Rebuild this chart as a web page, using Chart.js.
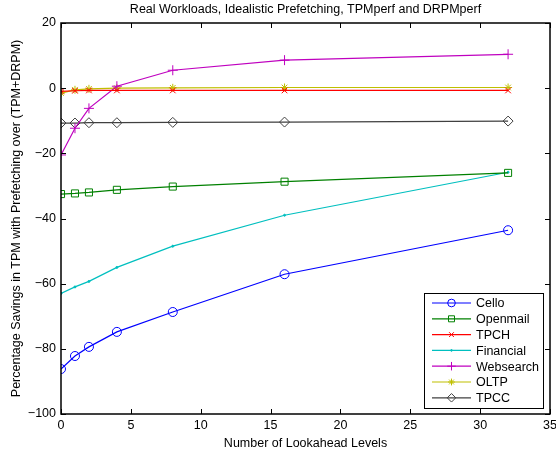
<!DOCTYPE html>
<html>
<head>
<meta charset="utf-8">
<script src="https://cdn.jsdelivr.net/npm/chart.js@4/dist/chart.umd.min.js"></script>
<style>
  html, body { margin: 0; padding: 0; background: #fff; }
  #wrap { width: 556px; height: 451px; }
</style>
</head>
<body>
<div id="wrap"><canvas id="chart" width="556" height="451"></canvas></div>
<script>
// lookahead levels (x values)
const levels = [0, 1, 2, 4, 8, 16, 32];

// percentage savings per workload
const cello      = [-86.2, -82.2, -79.4, -74.8, -68.7, -57.1, -43.6];
const openmail   = [-32.5, -32.3, -32.0, -31.2, -30.2, -28.7, -26.0];
const tpch       = [-1.0, -0.8, -0.7, -0.7, -0.7, -0.7, -0.7];
const financial  = [-63.0, -61.0, -59.3, -55.0, -48.5, -39.0, -25.8];
const websearch  = [-20.5, -12.3, -6.2, 0.6, 5.5, 8.6, 10.4];
const oltp       = [-1.5, -0.5, -0.2, 0.0, 0.1, 0.2, 0.2];
const tpcc       = [-10.7, -10.7, -10.6, -10.6, -10.5, -10.4, -10.1];

const xTicks = [0, 5, 10, 15, 20, 25, 30, 35];
const yTicks = [-100, -80, -60, -40, -20, 0, 20];

const chartTitle = 'Real Workloads, Idealistic Prefetching, TPMperf and DRPMperf';
const FS = 12.5;

function pts(vals) {
    return levels.map(function(x, i) { return {x: x, y: vals[i]}; });
}

function series(label, vals, color, style, radius, filled) {
    return {
        label: label,
        data: pts(vals),
        borderColor: color,
        backgroundColor: color,
        pointBorderColor: color,
        pointBackgroundColor: filled ? color : 'rgba(0,0,0,0)',
        pointStyle: style,
        pointRadius: radius,
        pointBorderWidth: 1,
        borderWidth: 1.2,
        tension: 0,
        fill: false
    };
}

var datasets = [
    series('Cello', cello, '#0000ff', 'circle', 4.5),
    series('Openmail', openmail, '#008000', 'rect', 5),
    series('TPCH', tpch, '#ff0000', 'crossRot', 4),
    series('Financial', financial, '#00bfbf', 'circle', 1, true),
    series('Websearch', websearch, '#bf00bf', 'cross', 5),
    series('OLTP', oltp, '#bfbf00', 'star', 4),
    series('TPCC', tpcc, '#404040', 'rectRot', 5)
];

// frame, inward ticks, title over the plot box and the inside legend, MATLAB style
var framePlugin = {
    id: 'frame',
    afterDatasetsDraw: function(chart) {
        var ctx = chart.ctx;
        var a = chart.chartArea;
        var xs = chart.scales.x, ys = chart.scales.y;
        ctx.save();
        ctx.strokeStyle = '#000';
        ctx.lineWidth = 1;
        ctx.beginPath();
        xTicks.forEach(function(v) {
            var px = Math.round(xs.getPixelForValue(v)) + 0.5;
            ctx.moveTo(px, a.bottom); ctx.lineTo(px, a.bottom - 5);
            ctx.moveTo(px, a.top); ctx.lineTo(px, a.top + 5);
        });
        yTicks.forEach(function(v) {
            var py = Math.round(ys.getPixelForValue(v)) + 0.5;
            ctx.moveTo(a.left, py); ctx.lineTo(a.left + 5, py);
            ctx.moveTo(a.right, py); ctx.lineTo(a.right - 5, py);
        });
        ctx.stroke();
        ctx.lineWidth = 1.5;
        ctx.strokeRect(a.left, a.top, a.right - a.left, a.bottom - a.top);

        ctx.font = FS + 'px "Liberation Sans", Arial, sans-serif';
        ctx.fillStyle = '#000';
        ctx.textAlign = 'center';
        ctx.textBaseline = 'middle';
        ctx.fillText(chartTitle, (a.left + a.right) / 2, 10);
        ctx.textAlign = 'left';

        // legend box
        var lx = 424, ly = 293, lw = 119, lh = 115;
        ctx.fillStyle = '#fff';
        ctx.fillRect(lx, ly, lw, lh);
        ctx.lineWidth = 1;
        ctx.strokeStyle = '#000';
        ctx.strokeRect(lx + 0.5, ly + 0.5, lw, lh);
        chart.data.datasets.forEach(function(ds, i) {
            var cy = ly + 10 + i * 15.8;
            ctx.strokeStyle = ds.borderColor;
            ctx.lineWidth = 1.2;
            ctx.beginPath();
            ctx.moveTo(lx + 8, cy); ctx.lineTo(lx + 47, cy);
            ctx.stroke();
            ctx.fillStyle = ds.pointBackgroundColor;
            ctx.lineWidth = 1;
            Chart.helpers.drawPoint(ctx, {
                pointStyle: ds.pointStyle,
                radius: ds.pointRadius * 0.85,
                rotation: 0,
                borderWidth: 1
            }, lx + 27.5, cy);
            ctx.fillStyle = '#000';
            ctx.fillText(ds.label, lx + 52, cy + 1);
        });
        ctx.restore();
    }
};

var ctx = document.getElementById('chart').getContext('2d');
Chart.defaults.font.family = '"Liberation Sans", Arial, sans-serif';
Chart.defaults.font.size = FS;
Chart.defaults.color = '#000';

var chart = new Chart(ctx, {
    type: 'line',
    data: { datasets: datasets },
    options: {
        responsive: false,
        animation: false,
        layout: { padding: { top: 23, right: 0, left: 9, bottom: 0 } },
        plugins: {
            legend: { display: false },
            tooltip: { enabled: false },
            title: { display: false }
        },
        scales: {
            x: {
                type: 'linear',
                min: 0,
                max: 35,
                grid: { display: false, drawTicks: false },
                border: { display: false },
                ticks: { stepSize: 5, padding: 4, font: { size: FS } },
                title: {
                    display: true,
                    text: 'Number of Lookahead Levels',
                    font: { size: FS },
                    padding: { top: 1, bottom: 0 }
                },
                afterFit: function(s) {
                    s.height = 37;
                    s.paddingRight = 0;
                }
            },
            y: {
                min: -100,
                max: 20,
                grid: { display: false, drawTicks: false },
                border: { display: false },
                ticks: {
                    stepSize: 20,
                    padding: 5,
                    font: { size: FS },
                    callback: function(v) { return v < 0 ? '\u2212' + Math.abs(v) : String(v); }
                },
                title: {
                    display: true,
                    text: 'Percentage Savings in TPM with Prefetching over (TPM+DRPM)',
                    font: { size: FS },
                    padding: { top: 0, bottom: 0 }
                },
                afterFit: function(s) { s.width = 52; }
            }
        }
    },
    plugins: [framePlugin]
});
</script>
</body>
</html>
